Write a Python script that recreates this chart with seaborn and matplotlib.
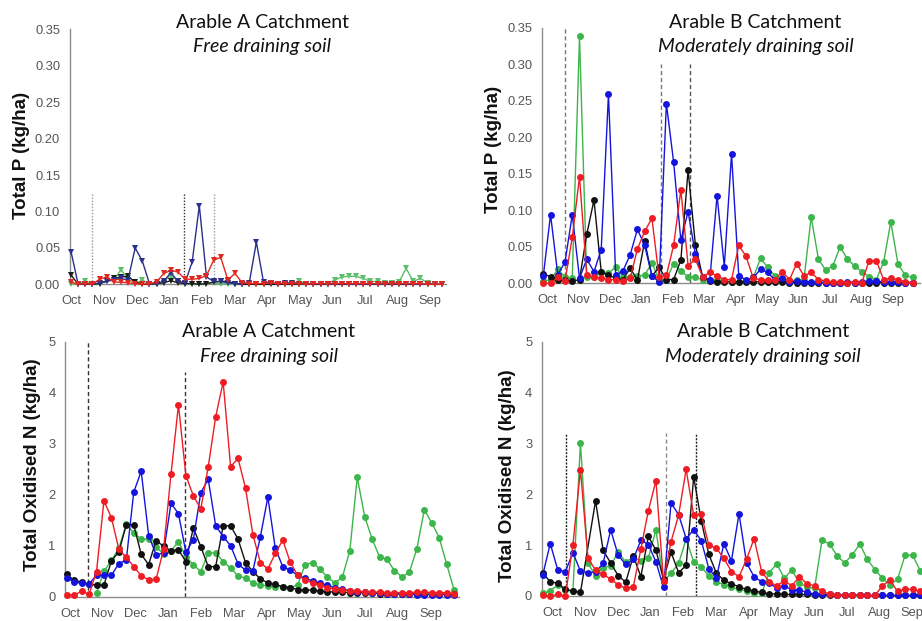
import numpy as np
import pandas as pd
import matplotlib
matplotlib.use("Agg")
import matplotlib.pyplot as plt
import seaborn as sns

nan = np.nan
months = ["Oct", "Nov", "Dec", "Jan", "Feb", "Mar", "Apr", "May", "Jun", "Jul", "Aug", "Sep"]

# Total P (kg/ha), Arable A, weekly
p_a_blue = [0.045, 0.000, 0.001, 0.000, 0.002, 0.004, 0.006, 0.008, 0.006, 0.050,
            0.032, 0.001, 0.001, 0.004, 0.016, 0.004, 0.002, 0.031, 0.108, 0.010,
            0.004, 0.004, 0.002, 0.001, 0.001, 0.002, 0.058, 0.003, 0.002, 0.001,
            0.002, 0.002, 0.001, 0.001, 0.000, 0.001, 0.000, 0.000, 0.001, 0.000,
            0.000, 0.000, 0.001, 0.000, 0.000, 0.000, 0.001, 0.000, 0.000, 0.000,
            0.000, 0.000, 0.000]
p_a_red = [0.003, 0.000, 0.001, 0.000, 0.007, 0.010, 0.003, 0.003, 0.002, 0.001,
           0.000, 0.001, 0.003, 0.015, 0.019, 0.017, 0.007, 0.007, 0.008, 0.012,
           0.033, 0.037, 0.006, 0.015, 0.002, 0.001, 0.001, 0.001, 0.002, 0.001,
           0.001, 0.001, 0.001, 0.000, 0.001, 0.001, 0.001, 0.001, 0.001, 0.001,
           0.001, 0.001, 0.001, 0.001, 0.001, 0.001, 0.001, 0.001, 0.001, 0.001,
           0.000, 0.000, 0.000]
p_a_green = [0.000, 0.000, 0.005, 0.000, 0.000, 0.006, 0.006, 0.020, 0.008, 0.000,
             0.006, 0.000, 0.001, 0.004, 0.012, 0.005, 0.001, 0.000, 0.000, 0.001,
             0.002, 0.001, 0.001, 0.000, 0.000, 0.000, 0.000, 0.000, 0.000, 0.000,
             0.001, 0.001, 0.004, 0.001, 0.000, 0.000, 0.001, 0.006, 0.010, 0.011,
             0.011, 0.008, 0.004, 0.004, 0.002, 0.002, 0.003, 0.022, 0.004, 0.008,
             0.002, 0.000, 0.000]
p_a_black = [0.013, 0.000, 0.000, 0.000, 0.001, 0.004, 0.008, 0.010, 0.011, 0.003,
             0.000, 0.000, 0.001, 0.002, 0.005, 0.002, 0.001, 0.001, 0.000, 0.001,
             0.003, 0.004, 0.004, 0.001, 0.000, 0.000, 0.000, 0.000, 0.000, 0.000,
             0.000, 0.000, 0.000, 0.000, 0.000, 0.000, 0.000, 0.000, 0.000, 0.000,
             0.000, 0.000, 0.000, 0.000, 0.000, 0.000, 0.000, 0.000, 0.000, 0.000,
             0.000, 0.000, 0.000]

# Total P (kg/ha), Arable B
p_b_blue = [0.010, 0.094, 0.012, 0.029, 0.094, 0.007, 0.033, 0.016, 0.046, 0.259,
            0.011, 0.017, 0.039, 0.074, 0.052, 0.010, 0.002, 0.246, 0.166, 0.059,
            0.098, 0.040, 0.009, 0.005, 0.120, 0.023, 0.177, 0.010, 0.005, 0.008,
            0.019, 0.015, 0.004, 0.007, 0.002, 0.003, 0.002, 0.002, 0.002, 0.001,
            0.001, 0.001, 0.002, 0.001, 0.002, 0.003, 0.003, 0.002, 0.002, 0.002,
            0.001, 0.001]
p_b_red = [0.000, 0.000, 0.008, 0.003, 0.063, 0.146, 0.011, 0.008, 0.007, 0.005,
           0.005, 0.003, 0.007, 0.047, 0.071, 0.089, 0.008, 0.011, 0.052, 0.128,
           0.024, 0.033, 0.009, 0.015, 0.010, 0.005, 0.005, 0.052, 0.037, 0.007,
           0.005, 0.004, 0.005, 0.016, 0.005, 0.027, 0.010, 0.015, 0.005, 0.003,
           0.002, 0.002, 0.001, 0.002, 0.001, 0.031, 0.031, 0.005, 0.007, 0.005,
           0.002, 0.001]
p_b_green = [0.003, 0.005, 0.019, 0.009, 0.007, 0.338, 0.008, 0.008, 0.015, 0.014,
             0.022, 0.009, 0.009, 0.010, 0.011, 0.028, 0.005, 0.005, 0.027, 0.017,
             0.009, 0.008, 0.005, 0.005, 0.004, 0.003, 0.002, 0.002, 0.003, 0.008,
             0.034, 0.022, 0.010, 0.005, 0.004, 0.004, 0.005, 0.091, 0.033, 0.018,
             0.024, 0.050, 0.033, 0.024, 0.016, 0.009, 0.005, 0.029, 0.084, 0.026,
             0.011, 0.008]
p_b_black = [0.013, 0.009, 0.005, 0.004, 0.003, 0.005, 0.067, 0.114, 0.016, 0.011,
             0.007, 0.005, 0.021, 0.004, 0.058, 0.010, 0.022, 0.005, 0.005, 0.032,
             0.155, 0.053, 0.009, 0.003, 0.002, 0.002, 0.002, 0.002, 0.002, 0.002,
             0.002, 0.002, 0.002, 0.002, 0.001, 0.001, 0.001, 0.001, 0.001, 0.001,
             0.001, 0.001, 0.001, 0.001, 0.001, 0.001, 0.001, 0.001, 0.001, 0.001,
             0.001, 0.001]

# Total oxidised N (kg/ha), Arable A
n_a_red = [0.03, 0.03, 0.11, 0.05, 0.49, 1.88, 1.55, 0.93, 0.77, 0.59,
           0.41, 0.33, 0.34, 0.93, 2.40, 3.76, 2.37, 1.98, 1.72, 2.55,
           3.53, 4.21, 2.55, 2.71, 2.13, 1.21, 0.67, 0.54, 0.85, 1.11,
           0.68, 0.42, 0.33, 0.27, 0.22, 0.18, 0.15, 0.13, 0.12, 0.11,
           0.10, 0.09, 0.09, 0.08, 0.08, 0.08, 0.08, 0.09, 0.09, 0.08,
           0.08, 0.08, 0.05]
n_a_blue = [0.37, 0.29, 0.26, 0.25, 0.42, 0.42, 0.42, 0.65, 0.72, 2.05,
            2.46, 1.20, 0.82, 0.86, 1.83, 1.63, 0.87, 1.12, 2.04, 2.30,
            1.39, 1.18, 1.00, 0.64, 0.52, 0.51, 1.18, 1.95, 0.95, 0.59,
            0.52, 0.42, 0.36, 0.31, 0.27, 0.22, 0.18, 0.15, 0.12, 0.10,
            0.09, 0.08, 0.07, 0.06, 0.06, 0.05, 0.05, 0.04, 0.04, 0.04,
            0.04, 0.04, 0.03]
n_a_black = [0.44, 0.32, 0.29, 0.24, 0.23, 0.23, 0.70, 0.88, 1.41, 1.41,
             0.83, 0.63, 1.10, 0.99, 0.90, 0.92, 0.69, 1.35, 0.98, 0.59,
             0.59, 1.39, 1.39, 1.13, 0.67, 0.49, 0.35, 0.27, 0.24, 0.20,
             0.18, 0.14, 0.13, 0.13, 0.11, 0.10, 0.09, 0.09, 0.08, 0.08,
             0.07, 0.07, 0.06, 0.06, 0.06, 0.05, 0.05, 0.05, 0.05, 0.05,
             0.05, 0.05, 0.05]
n_a_green = [nan, nan, nan, nan, 0.07, 0.50, 0.71, 0.95, 1.42, 1.25,
             1.13, 1.13, 0.97, 0.84, 0.90, 1.08, 0.78, 0.63, 0.49, 0.86,
             0.86, 0.69, 0.56, 0.41, 0.36, 0.27, 0.23, 0.21, 0.20, 0.19,
             0.18, 0.23, 0.63, 0.67, 0.54, 0.38, 0.27, 0.38, 0.90, 2.34,
             1.57, 1.13, 0.78, 0.73, 0.51, 0.39, 0.48, 0.94, 1.70, 1.45,
             1.16, 0.64, 0.13]

# Total oxidised N (kg/ha), Arable B
n_b_red = [0.02, 0.00, 0.03, 0.00, 1.00, 2.48, 0.74, 0.51, 0.43, 0.33,
           0.22, 0.15, 0.18, 0.92, 1.68, 2.27, 0.29, 1.07, 1.59, 2.49,
           1.59, 1.61, 1.00, 0.94, 0.74, 0.48, 0.38, 0.72, 1.13, 0.48,
           0.28, 0.20, 0.30, 0.20, 0.38, 0.24, 0.20, 0.09, 0.04, 0.02,
           0.02, 0.02, 0.01, 0.01, 0.01, 0.20, 0.31, 0.09, 0.13, 0.13,
           0.09, 0.05]
n_b_blue = [0.41, 1.03, 0.51, 0.48, 0.85, 0.49, 0.46, 0.47, 0.64, 1.30,
            0.80, 0.62, 0.72, 1.10, 1.01, 0.67, 0.17, 1.83, 1.60, 1.13,
            1.30, 1.09, 0.54, 0.35, 1.03, 0.69, 1.62, 0.65, 0.38, 0.28,
            0.26, 0.15, 0.20, 0.12, 0.12, 0.07, 0.04, 0.03, 0.03, 0.02,
            0.02, 0.02, 0.02, 0.01, 0.01, 0.01, 0.01, 0.01, 0.01, 0.01,
            0.01, 0.01]
n_b_black = [0.45, 0.28, 0.25, 0.13, 0.10, 0.07, nan, 1.87, 0.90, 0.65,
             0.40, 0.27, 0.79, 0.38, 1.17, 0.90, 0.33, 0.86, 0.46, 0.60,
             2.34, 1.48, 0.82, 0.45, 0.31, 0.24, 0.18, 0.13, 0.10, 0.07,
             0.04, 0.04, 0.03, 0.03, 0.03, 0.03, 0.02, 0.02, 0.02, 0.02,
             0.02, 0.02, 0.01, 0.01, 0.01, 0.01, 0.01, 0.01, 0.01, 0.01,
             0.01, 0.01]
n_b_green = [0.05, 0.10, 0.22, 0.12, 0.09, 3.01, 0.64, 0.40, 0.56, 0.59,
             0.87, 0.66, 0.77, 0.69, 0.75, 1.30, 0.28, 0.45, 0.64, 1.12,
             0.67, 0.58, 0.39, 0.28, 0.22, 0.17, 0.13, 0.10, 0.06, 0.05,
             0.46, 0.63, 0.35, 0.51, 0.25, 0.18, 0.15, 1.10, 1.02, 0.79,
             0.65, 0.81, 1.02, 0.72, 0.52, 0.35, 0.22, 0.33, 0.80, 0.80,
             0.50, 0.40]

order = ["green", "black", "blue", "red"]
pal_a = {"green": "#5cbf6a", "black": "#1a1a1a", "blue": "#2b2f8c", "red": "#e3261f"}
pal_b = {"green": "#3cb54a", "black": "#111111", "blue": "#1414dc", "red": "#ee1d23"}


def long_frame(cols):
    parts = []
    for name, vals in cols.items():
        parts.append(pd.DataFrame({"week": np.arange(len(vals)), "value": vals, "series": name}))
    return pd.concat(parts, ignore_index=True)


sns.set_theme(style="white")
plt.rcParams["font.family"] = ["Liberation Sans", "DejaVu Sans"]

W, H = 922, 621
fig = plt.figure(figsize=(W / 100, H / 100), dpi=100)

panels = [
    dict(cols={"green": p_a_green, "black": p_a_black, "blue": p_a_blue, "red": p_a_red},
         x0=71.0, step=7.13, xlim=(-0.15, 52.6), y0=284.3, y1=29.3, top=0.35, pal=pal_a,
         marker="v", ms=4.5, m0=0.1, mstep=4.57,
         vl=[(2.9, 0.126, "#9a9a9a", (0, (1, 1.2))), (15.9, 0.126, "#333333", (0, (1, 1.2))),
             (20.0, 0.126, "#9a9a9a", (0, (1, 1.2)))],
         title=("Arable A Catchment", "Free draining soil", 262, 22.7, 46.7),
         ylab=("Total P (kg/ha)", 21.3, 155)),
    dict(cols={"green": p_b_green, "black": p_b_black, "blue": p_b_blue, "red": p_b_red},
         x0=543.3, step=7.24, xlim=(-0.15, 52.0), y0=283.3, y1=27.7, top=0.35, pal=pal_b,
         marker="o", ms=5, m0=0.55, mstep=4.34,
         vl=[(3.0, 0.35, "#777777", (0, (3, 2))), (16.2, 0.30, "#777777", (0, (3, 2))),
             (20.2, 0.30, "#555555", (0, (3, 2)))],
         title=("Arable B Catchment", "Moderately draining soil", 755.5, 22.7, 46.5),
         ylab=("Total P (kg/ha)", 493, 149)),
    dict(cols={"green": n_a_green, "black": n_a_black, "blue": n_a_blue, "red": n_a_red},
         x0=66.7, step=7.45, xlim=(-0.2, 52.6), y0=596.7, y1=341.7, top=5, pal=pal_b,
         marker="o", ms=5, m0=0.45, mstep=4.4,
         vl=[(2.86, 5.0, "#333333", (0, (3, 2))), (15.9, 4.4, "#333333", (0, (3, 2)))],
         title=("Arable A Catchment", "Free draining soil", 269, 331.7, 356.7),
         ylab=("Total Oxidised N (kg/ha)", 32.5, 465)),
    dict(cols={"green": n_b_green, "black": n_b_black, "blue": n_b_blue, "red": n_b_red},
         x0=542.7, step=7.55, xlim=(-0.1, 52.5), y0=596.0, y1=341.7, top=5, pal=pal_b,
         marker="o", ms=5, m0=1.3, mstep=4.33,
         vl=[(3.1, 3.2, "#222222", (0, (1.5, 1))), (16.3, 3.2, "#8a8a8a", (0, (3, 2))),
             (20.3, 3.2, "#222222", (0, (1.5, 1)))],
         title=("Arable B Catchment", "Moderately draining soil", 763.3, 331.7, 356.7),
         ylab=("Total Oxidised N (kg/ha)", 507, 476)),
]

for p in panels:
    left_px = p["x0"] + p["xlim"][0] * p["step"]
    width_px = (p["xlim"][1] - p["xlim"][0]) * p["step"]
    ax = fig.add_axes([left_px / W, 1 - p["y0"] / H, width_px / W, (p["y0"] - p["y1"]) / H])
    df = long_frame(p["cols"])
    for x, ymax, col, ls in p["vl"]:
        ax.vlines(x, 0, ymax, colors=col, linestyles=[ls], linewidth=1.0, zorder=1)
    sns.lineplot(data=df, x="week", y="value", hue="series", hue_order=order,
                 palette=p["pal"], marker=p["marker"], markersize=p["ms"],
                 markeredgewidth=0, linewidth=1.0, estimator=None, legend=False,
                 ax=ax, clip_on=False, zorder=3)
    ax.set_xlim(*p["xlim"])
    ax.set_ylim(0, p["top"])
    ax.set(xlabel="", ylabel="")
    if p["top"] < 1:
        yt = np.round(np.arange(0, 0.351, 0.05), 2)
        ax.set_yticks(yt)
        ax.set_yticklabels([f"{v:.2f}" for v in yt])
    else:
        ax.set_yticks(range(0, 6))
        ax.set_yticklabels([str(v) for v in range(0, 6)])
    ax.set_xticks([p["m0"] + p["mstep"] * i for i in range(12)])
    ax.set_xticklabels(months)
    ax.tick_params(axis="both", direction="out", length=3, width=0.8, color="#888888",
                   labelsize=9.3, labelcolor="#555555")
    ax.tick_params(axis="x", pad=5)
    ax.tick_params(axis="y", pad=4)
    sns.despine(ax=ax)
    for s in ["left", "bottom"]:
        ax.spines[s].set_color("#8c8c8c")
        ax.spines[s].set_linewidth(1.0)
    ax.patch.set_alpha(0)

    t1, t2, tx, ty1, ty2 = p["title"]
    fig.text(tx / W, 1 - ty1 / H, t1, ha="center", va="center", fontsize=14,
             family=["Lato", "DejaVu Sans"], color="#111111")
    fig.text(tx / W, 1 - ty2 / H, t2, ha="center", va="center", fontsize=14,
             family=["Lato", "DejaVu Sans"], style="italic", color="#111111")
    lab, lx, ly = p["ylab"]
    fig.text(lx / W, 1 - ly / H, lab, ha="center", va="center", rotation=90,
             fontsize=13.5, fontweight="bold", color="#111111")

fig.savefig("out.png", dpi=100)
